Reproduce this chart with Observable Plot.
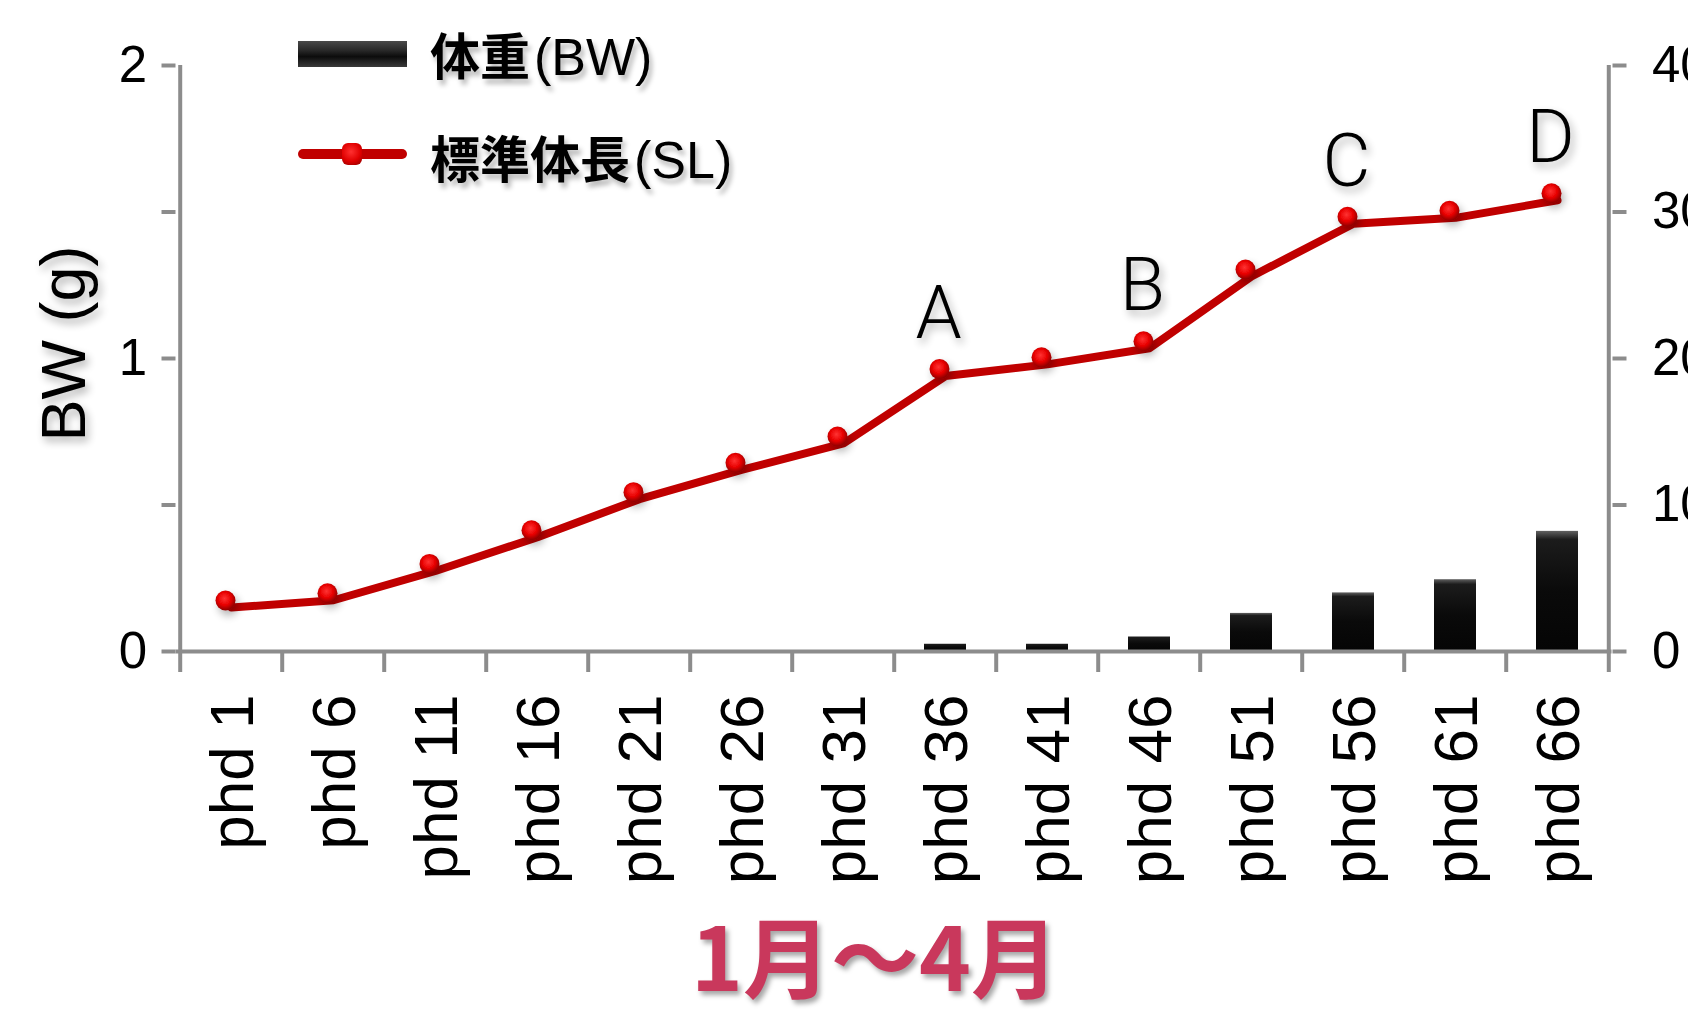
<!DOCTYPE html>
<html>
<head>
<meta charset="utf-8">
<script src="https://cdn.jsdelivr.net/npm/d3@7"></script>
<script src="https://cdn.jsdelivr.net/npm/@observablehq/plot@0.6"></script>
<style>
  html, body { margin: 0; padding: 0; background: #fff; }
  #wrap { position: relative; width: 1688px; height: 1010px; overflow: hidden; font-family: "Liberation Sans", Arial, sans-serif; }
  #chart svg { display: block; }
  .leg { position: absolute; left: 430px; font-size: 50px; line-height: 50px; white-space: nowrap; color: #000;
         text-shadow: 3px 5px 5px rgba(0,0,0,0.28); }
  .leg .cjk { font-family: "Noto Sans CJK JP", sans-serif; font-weight: 700; }
  .leg .lat { font-family: "Liberation Sans", Arial, sans-serif; font-weight: 400; font-size: 52px; margin-left: 4px; }
  .sw1 { position: absolute; left: 298px; top: 41px; width: 109px; height: 26px;
         background: linear-gradient(#4a4a4a 0%, #2a2a2a 35%, #0c0c0c 60%, #3a3a3a 100%); }
  .sw2 { position: absolute; left: 298px; top: 149px; width: 109px; height: 10px; border-radius: 5px; background: #c00000; }
  .sw2m { position: absolute; left: 342px; top: 143px; width: 20px; height: 22px; border-radius: 6px;
          background: radial-gradient(circle at 45% 40%, #ff3030 0%, #e00000 55%, #8a0000 100%); }
  #xtitle { position: absolute; left: 575px; width: 600px; top: 903px; text-align: center;
            font-family: "Noto Sans CJK JP", sans-serif; font-weight: 700; font-size: 88px; line-height: 100px;
            color: #c9385c; text-shadow: 3px 4px 5px rgba(0,0,0,0.35); }
  .glow { filter: url(#glow); }
</style>
</head>
<body>
<svg width="0" height="0" style="position:absolute">
  <defs>
    <linearGradient id="bwGrad" x1="0" y1="0" x2="0" y2="1">
      <stop offset="0" stop-color="#606060"/>
      <stop offset="0.07" stop-color="#1c1c1c"/>
      <stop offset="0.5" stop-color="#0a0a0a"/>
      <stop offset="1" stop-color="#050505"/>
    </linearGradient>
    <radialGradient id="dotGrad" cx="0.45" cy="0.4" r="0.6">
      <stop offset="0" stop-color="#ff3434"/>
      <stop offset="0.55" stop-color="#e80000"/>
      <stop offset="1" stop-color="#8a0000"/>
    </radialGradient>
    <filter id="glow" x="-30%" y="-30%" width="160%" height="160%">
      <feGaussianBlur in="SourceAlpha" stdDeviation="4" result="b"/>
      <feOffset in="b" dx="3" dy="5" result="o"/>
      <feComponentTransfer in="o" result="s"><feFuncA type="linear" slope="0.3"/></feComponentTransfer>
      <feMerge><feMergeNode in="s"/><feMergeNode in="SourceGraphic"/></feMerge>
    </filter>
  </defs>
</svg>
<div id="wrap">
  <div id="chart"></div>
  <div class="sw1"></div>
  <div class="leg" id="leg1" style="top:28px"></div>
  <div class="sw2"></div><div class="sw2m"></div>
  <div class="leg" id="leg2" style="top:131px"></div>
  <div id="xtitle"></div>
</div>
<script>
// ---- data ----
const categories = ["phd 1","phd 6","phd 11","phd 16","phd 21","phd 26","phd 31","phd 36","phd 41","phd 46","phd 51","phd 56","phd 61","phd 66"];
const bodyWeight = [null, null, null, null, null, null, null, 0.025, 0.025, 0.05, 0.13, 0.2, 0.245, 0.41]; // g (left axis)
const standardLength = [3.0, 3.5, 5.5, 7.8, 10.4, 12.4, 14.2, 18.8, 19.6, 20.7, 25.6, 29.2, 29.6, 30.8]; // right axis
const groupLabels = ["A", "B", "C", "D"];
const groupAt = ["phd 36", "phd 46", "phd 56", "phd 66"];
const leftTicks = [0, 0.5, 1, 1.5, 2];
const rightTicks = [0, 10, 20, 30, 40];
const yLabel = "BW (g)";
const legendCjk = ["体重", "標準体長"];
const legendLat = ["(BW)", "(SL)"];
const xTitle = "1月～4月";

// ---- layout ----
const W = 1688, H = 900, ML = 175.5, MR = 76.5, MT = 65, MB = 249;
const band = (W - ML - MR) / categories.length;
const ratio = rightTicks[rightTicks.length - 1] / leftTicks[leftTicks.length - 1]; // 40 / 2
const axisColor = "#8c8c8c";

const rows = categories.map((c, i) => ({cat: c, bw: bodyWeight[i], sl: standardLength[i]}));
const labelRows = groupLabels.map((t, i) => ({t, cat: groupAt[i], sl: standardLength[categories.indexOf(groupAt[i])]}));

const plot = Plot.plot({
  width: W, height: H,
  marginLeft: ML, marginRight: MR, marginTop: MT, marginBottom: MB,
  style: {fontFamily: '"Liberation Sans", Arial, sans-serif', background: "transparent", overflow: "visible", color: "#000"},
  x: {type: "band", domain: categories, padding: 0, axis: null},
  y: {domain: [0, 2], axis: null, label: null},
  marks: [
    Plot.barY(rows.filter(d => d.bw != null), {x: "cat", y: "bw", fill: "url(#bwGrad)", insetLeft: 30, insetRight: 30}),
    // axis lines and category boundary ticks
    Plot.ruleY([0], {stroke: axisColor, strokeWidth: 4}),
    Plot.ruleX(categories, {dx: -band / 2, y1: 0, y2: 0, insetBottom: -21, stroke: axisColor, strokeWidth: 4}),
    Plot.ruleX([categories[0]], {dx: -band / 2, y1: 2, y2: 0, stroke: axisColor, strokeWidth: 4}),
    Plot.ruleX([categories[categories.length - 1]], {dx: band / 2, y1: 2, y2: 0, insetBottom: -21, stroke: axisColor, strokeWidth: 4}),
    Plot.axisY({ticks: leftTicks, anchor: "left", tickSize: 14, tickPadding: 15, fontSize: 51, label: null,
      tickFormat: d => Number.isInteger(d) ? String(d) : null, stroke: axisColor, strokeWidth: 4}),
    Plot.axisY({ticks: rightTicks.map(v => v / ratio), anchor: "right", tickSize: 14, tickPadding: 26, fontSize: 51, label: null,
      tickFormat: d => String(Math.round(d * ratio)), stroke: axisColor, strokeWidth: 4}),
    Plot.axisX({anchor: "bottom", tickSize: 0, tickPadding: 43, tickRotate: -90, fontSize: 62, label: null, dx: 2}),
    // y label
    Plot.text([yLabel], {frameAnchor: "left", textAnchor: "middle", dx: -111, dy: -15, rotate: -90, fontSize: 63, text: d => d, className: "glow"}),
    // SL line
    Plot.line(rows, {x: "cat", y: d => d.sl / ratio, stroke: "#c00000", strokeWidth: 8, strokeLinejoin: "round", strokeLinecap: "round"}),
    Plot.dot(rows, {x: "cat", y: d => d.sl / ratio, r: 10, fill: "url(#dotGrad)", stroke: "none", dx: -6, dy: -7, className: "glow"}),
    Plot.text(labelRows, {x: "cat", y: d => d.sl / ratio, text: "t", dx: -7, dy: -38, lineAnchor: "bottom", fontSize: 74,
      fontFamily: 'Roboto, "Liberation Sans", Arial, sans-serif', fontWeight: 300, className: "glow"})
  ]
});
document.getElementById("chart").appendChild(plot);

// legend + x title (text kept as real text)
document.getElementById("leg1").innerHTML = `<span class="cjk">${legendCjk[0]}</span><span class="lat">${legendLat[0]}</span>`;
document.getElementById("leg2").innerHTML = `<span class="cjk">${legendCjk[1]}</span><span class="lat">${legendLat[1]}</span>`;
document.getElementById("xtitle").textContent = xTitle;
</script>
</body>
</html>
